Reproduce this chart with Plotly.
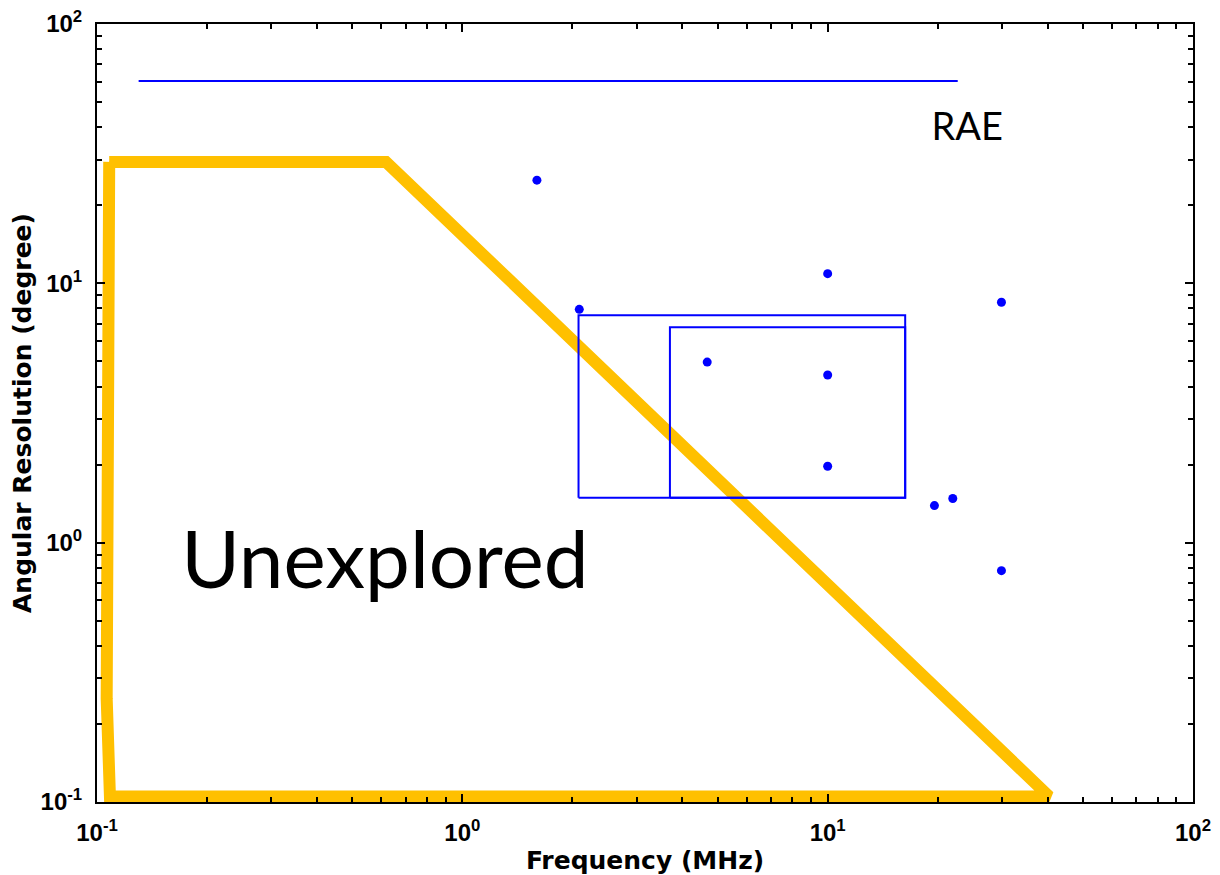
import plotly.graph_objects as go

# ---- data ----
point_freq = [1.60, 2.09, 4.68, 10.0, 10.0, 10.0, 19.6, 22.0, 29.9, 29.9]
point_res = [25.0, 7.94, 4.97, 10.9, 4.43, 1.97, 1.39, 1.48, 8.45, 0.78]

rae_freq = [0.13, 22.7]
rae_res = [60.3, 60.3]

box_outer_freq = [2.08, 16.3, 16.3, 2.08, 2.08]
box_outer_res = [1.49, 1.49, 7.53, 7.53, 1.49]

box_inner_freq = [3.70, 16.3, 16.3, 3.70, 3.70]
box_inner_res = [1.49, 1.49, 6.77, 6.77, 1.49]

unexplored_freq = [0.108, 0.618, 40.4, 0.1085, 0.1063, 0.108]
unexplored_res = [29.4, 29.4, 0.105, 0.105, 0.25, 29.4]

label_unexplored = ("Unexplored", 0.614, 0.80)
label_rae = ("RAE", 24.1, 39.0)

tick_vals = [0.1, 1, 10, 100]
tick_text = ["10<sup>-1</sup>", "10<sup>0</sup>", "10<sup>1</sup>", "10<sup>2</sup>"]
minor_vals = [m * 10 ** e for e in (-1, 0, 1) for m in range(2, 10)]

BLUE = "#0000FF"
GOLD = "#FFC000"

fig = go.Figure()

fig.add_trace(go.Scatter(x=unexplored_freq, y=unexplored_res, mode="lines",
                         line=dict(color=GOLD, width=12), hoverinfo="skip"))
fig.add_trace(go.Scatter(x=rae_freq, y=rae_res, mode="lines",
                         line=dict(color=BLUE, width=2)))
fig.add_trace(go.Scatter(x=box_outer_freq, y=box_outer_res, mode="lines",
                         line=dict(color=BLUE, width=2)))
fig.add_trace(go.Scatter(x=box_inner_freq, y=box_inner_res, mode="lines",
                         line=dict(color=BLUE, width=2)))
fig.add_trace(go.Scatter(x=point_freq, y=point_res, mode="markers",
                         marker=dict(color=BLUE, size=9, line=dict(width=0))))

fig.add_trace(go.Scatter(x=[label_unexplored[1]], y=[label_unexplored[2]], mode="text",
                         text=[label_unexplored[0]], textposition="middle center",
                         textfont=dict(family="Lato", size=80, color="black")))
fig.add_trace(go.Scatter(x=[label_rae[1]], y=[label_rae[2]], mode="text",
                         text=[label_rae[0]], textposition="middle center",
                         textfont=dict(family="Lato", size=38, color="black")))

axis_common = dict(
    type="log",
    automargin=False,
    tickmode="array",
    tickvals=tick_vals,
    ticktext=tick_text,
    ticks="inside",
    ticklen=8,
    tickwidth=2,
    tickcolor="black",
    showline=True,
    linewidth=2,
    linecolor="black",
    mirror="ticks",
    showgrid=False,
    zeroline=False,
    tickfont=dict(family="Liberation Sans", size=24, color="black", weight="bold"),
    minor=dict(ticks="inside", ticklen=5, tickwidth=2, tickcolor="black",
               tickmode="array", tickvals=minor_vals, showgrid=False),
)

fig.update_layout(
    width=1220,
    height=875,
    margin=dict(l=97, r=27, t=24, b=73, autoexpand=False),
    paper_bgcolor="white",
    plot_bgcolor="white",
    showlegend=False,
    xaxis=dict(axis_common, range=[-1, 2],
               ticklabelstandoff=8,
               title=dict(text="Frequency (MHz)", standoff=8,
                          font=dict(family="DejaVu Sans", size=25, color="black", weight="bold"))),
    yaxis=dict(axis_common, range=[-1, 2],
               ticklabelstandoff=8,
               title=dict(text="Angular Resolution (degree)", standoff=2,
                          font=dict(family="DejaVu Sans", size=25, color="black", weight="bold"))),
)

fig.write_html("out.html")
